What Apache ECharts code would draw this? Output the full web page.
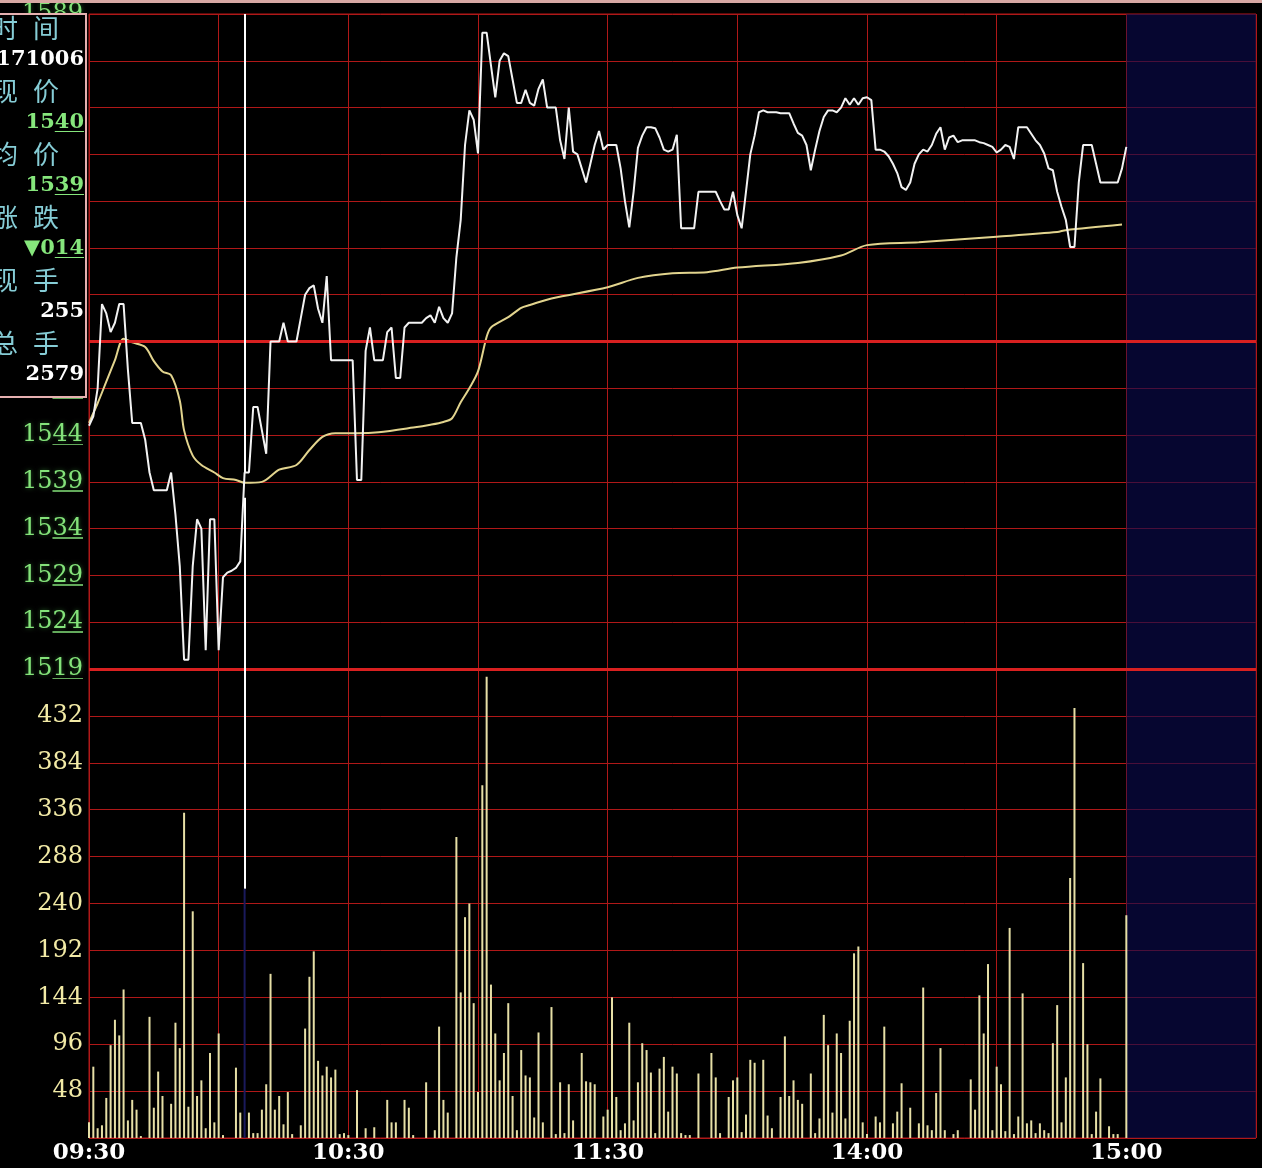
<!DOCTYPE html>
<html><head><meta charset="utf-8">
<script src="https://cdn.jsdelivr.net/npm/echarts@6.0.0/dist/echarts.min.js"></script>
<style>html,body{margin:0;padding:0;background:#000;}#c{width:1262px;height:1168px;}</style>
</head><body><div id="c"></div><script>
// ---- data ----
const timeLabels = ['09:30','','10:30','','11:30','','14:00','','15:00',''];
const priceTicks = {min:1519, max:1589, step:5, prevClose:1554};
const volumeTicks = {min:0, max:480, step:48};
const cursorMinute = 36;
const cursorPrice = 1540;
const cursorVolume = 255;
const infoLabels = [['时','间'],['现','价'],['均','价'],['涨','跌'],['现','手'],['总','手']];
const infoValues = ['171006','1540','1539','▼014','255','2579'];
const infoValueColors = ['#ffffff','#86e67c','#86e67c','#86e67c','#ffffff','#ffffff'];

const pricePoints = [[0,1545],[1,1546],[2,1549],[3,1558],[4,1557],[5,1555],[6,1556],[7,1558],[8,1558],[9,1551],[10,1545.3],[11,1545.3],[12,1545.3],[13,1543.5],[14,1540],[15,1538.1],[16,1538.1],[17,1538.1],[18,1538.1],[19,1540],[20,1535.5],[21,1530],[22,1520],[23,1520],[24,1530],[25,1535],[26,1534],[27,1521],[28,1535],[29,1535],[30,1521],[31,1528.8],[32,1529.3],[33,1529.5],[34,1529.8],[35,1530.5],[36,1540],[37,1540],[38,1547],[39,1547],[40,1544.5],[41,1542],[42,1554],[43,1554],[44,1554],[45,1556],[46,1554],[47,1554],[48,1554],[49,1556.5],[50,1559],[51,1559.7],[52,1560],[53,1557.5],[54,1556],[55,1561],[56,1552],[57,1552],[58,1552],[59,1552],[60,1552],[61,1552],[62,1539.2],[63,1539.2],[64,1553],[65,1555.5],[66,1552],[67,1552],[68,1552],[69,1555],[70,1555.5],[71,1550.1],[72,1550.1],[73,1555.5],[74,1556],[75,1556],[76,1556],[77,1556],[78,1556.5],[79,1556.8],[80,1556],[81,1557.7],[82,1556.5],[83,1556],[84,1557],[85,1563],[86,1567],[87,1575],[88,1578.7],[89,1577.7],[90,1574.1],[91,1587],[92,1587],[93,1583.5],[94,1580.1],[95,1584],[96,1584.8],[97,1584.5],[98,1582],[99,1579.5],[100,1579.5],[101,1580.9],[102,1579.5],[103,1579.2],[104,1581],[105,1582],[106,1579],[107,1579],[108,1579],[109,1575.5],[110,1573.5],[111,1579],[112,1574.3],[113,1574],[114,1572.5],[115,1571],[116,1573],[117,1575],[118,1576.5],[119,1574.5],[120,1575],[121,1575],[122,1575],[123,1572.5],[124,1569],[125,1566.2],[126,1570],[127,1574.7],[128,1576],[129,1576.9],[130,1576.9],[131,1576.8],[132,1575.8],[133,1574.5],[134,1574.3],[135,1574.5],[136,1576.1],[137,1566.1],[138,1566.1],[139,1566.1],[140,1566.1],[141,1570],[142,1570],[143,1570],[144,1570],[145,1570],[146,1569],[147,1568.1],[148,1568.1],[149,1570],[150,1567.5],[151,1566.1],[152,1570],[153,1574],[154,1576],[155,1578.5],[156,1578.7],[157,1578.5],[158,1578.5],[159,1578.5],[160,1578.4],[161,1578.4],[162,1578.4],[163,1577.3],[164,1576.3],[165,1576],[166,1575],[167,1572.3],[168,1574.5],[169,1576.5],[170,1578],[171,1578.7],[172,1578.7],[173,1578.5],[174,1579],[175,1580],[176,1579.3],[177,1580],[178,1579.3],[179,1580],[180,1580.1],[181,1579.8],[182,1574.5],[183,1574.5],[184,1574.3],[185,1573.8],[186,1573],[187,1572],[188,1570.5],[189,1570.2],[190,1571],[191,1573],[192,1574],[193,1574.5],[194,1574.3],[195,1575],[196,1576.2],[197,1576.9],[198,1574.5],[199,1575.8],[200,1576],[201,1575.3],[202,1575.5],[203,1575.5],[204,1575.5],[205,1575.5],[206,1575.3],[207,1575.2],[208,1575],[209,1574.8],[210,1574.2],[211,1574.5],[212,1575],[213,1574.8],[214,1573.5],[215,1576.9],[216,1576.9],[217,1576.9],[218,1576.2],[219,1575.5],[220,1575],[221,1574.1],[222,1572.5],[223,1572.3],[224,1570],[225,1568.4],[226,1567],[227,1564.1],[228,1564.1],[229,1571],[230,1575],[231,1575],[232,1575],[233,1573],[234,1571],[235,1571],[236,1571],[237,1571],[238,1571],[239,1572.5],[240,1574.8]];

const avgPoints = [[0,1545.3],[2,1547.4],[4,1549.7],[6,1552],[8,1554.3],[10,1553.9],[13,1553.4],[15,1551.9],[17,1550.8],[19,1550.4],[21,1547.7],[22,1544.5],[24,1541.8],[26,1540.8],[29,1540],[31,1539.4],[34,1539.2],[36,1538.9],[40,1539],[44,1540.3],[48,1540.8],[51,1542.4],[54,1543.8],[57,1544.2],[62,1544.2],[67,1544.3],[75,1544.8],[79,1545.1],[82,1545.4],[84,1545.8],[86,1547.5],[88,1549],[90,1550.8],[92,1554.5],[93,1555.5],[97,1556.6],[100,1557.6],[102,1557.9],[107,1558.6],[120,1559.8],[127,1560.8],[135,1561.3],[143,1561.4],[150,1561.9],[164,1562.4],[174,1563.2],[180,1564.3],[192,1564.6],[210,1565.2],[224,1565.7],[226,1565.9],[239,1566.5]];

const volumePoints = [[0,16],[1,73],[2,10],[3,13],[4,41],[5,95],[6,121],[7,105],[8,152],[9,18],[10,39],[11,29],[12,2],[14,124],[15,31],[16,68],[17,43],[19,35],[20,118],[21,92],[22,333],[23,32],[24,232],[25,43],[26,59],[27,10],[28,87],[29,16],[30,107],[31,3],[34,72],[35,26],[36,255],[37,26],[38,5],[39,5],[40,29],[41,55],[42,168],[43,29],[44,43],[45,14],[46,47],[47,4],[49,13],[50,112],[51,165],[52,191],[53,79],[54,64],[55,73],[56,62],[57,70],[58,4],[59,5],[60,3],[62,49],[64,10],[66,11],[69,39],[70,16],[71,16],[73,39],[74,31],[75,3],[78,57],[80,8],[81,114],[82,39],[83,26],[85,308],[86,149],[87,226],[88,240],[89,138],[90,47],[91,361],[92,472],[93,157],[94,107],[95,59],[96,87],[97,138],[98,43],[99,8],[100,90],[101,64],[102,62],[103,21],[104,108],[105,16],[107,134],[108,4],[109,57],[110,5],[111,55],[112,18],[114,87],[115,58],[116,57],[117,55],[119,22],[120,29],[121,144],[122,42],[123,8],[124,15],[125,118],[126,18],[127,57],[128,97],[129,90],[130,67],[131,5],[132,71],[133,83],[134,27],[135,73],[136,66],[137,5],[138,3],[139,3],[141,66],[144,87],[145,62],[146,5],[148,42],[149,59],[150,62],[151,6],[152,24],[153,80],[154,77],[156,80],[157,23],[158,10],[160,42],[161,104],[162,43],[163,59],[164,39],[165,35],[167,66],[168,5],[169,20],[170,126],[171,95],[172,26],[173,107],[174,87],[175,20],[176,120],[177,189],[178,196],[179,16],[180,4],[182,22],[183,16],[184,114],[186,15],[187,27],[188,56],[190,31],[192,15],[193,154],[194,13],[195,8],[196,46],[197,92],[198,8],[200,4],[201,8],[204,60],[205,29],[206,146],[207,107],[208,178],[209,8],[210,73],[211,55],[212,7],[213,215],[214,4],[215,22],[216,148],[217,15],[218,18],[219,5],[220,15],[221,8],[222,5],[223,97],[224,136],[225,16],[226,62],[227,266],[228,440],[230,179],[231,96],[232,4],[233,27],[234,61],[236,12],[237,4],[238,4],[240,228]];

// ---- styles ----
const GRID_RED = '#b01818';
const THICK_RED = '#d82020';
const GREEN = '#84e27a';
const SERIF = 'DejaVu Serif';
const CJK = 'Noto Sans CJK SC';

const chart = echarts.init(document.getElementById('c'));

// underline effect for the last two digits (green numbers)
function underlineBg(color) {
  return new echarts.graphic.LinearGradient(0, 0, 0, 1, [
    {offset: 0, color: 'rgba(0,0,0,0)'}, {offset: 0.86, color: 'rgba(0,0,0,0)'},
    {offset: 0.86, color: color}, {offset: 0.93, color: color},
    {offset: 0.93, color: 'rgba(0,0,0,0)'}, {offset: 1, color: 'rgba(0,0,0,0)'}
  ]);
}

function xAxisCfg(gi, showLabels) {
  return {
    type: 'value', gridIndex: gi, min: 0, max: 270, interval: 30,
    axisLine: {show: false}, axisTick: {show: false},
    axisLabel: {show: showLabels, color: '#ffffff', fontFamily: SERIF, fontSize: 23, fontWeight: 'bold', margin: 4,
      showMinLabel: true, showMaxLabel: true,
      formatter: v => timeLabels[Math.round(v / 30)] || ''},
    splitLine: {show: true, lineStyle: {color: GRID_RED, width: 1}}
  };
}

// info box graphics
const infoGraphics = [
  {type: 'rect', shape: {x: 0, y: 0, width: 1262, height: 3}, style: {fill: '#d8a8a4'}, z: 99, silent: true},
  {type: 'rect', shape: {x: -6, y: 14, width: 92, height: 383},
   style: {fill: '#000', stroke: '#e6b0b0', lineWidth: 2}, z: 100, silent: true}
];
const rowTop = 28, rowStep = 63;
infoLabels.forEach((pair, i) => {
  const y = rowTop + i * rowStep;
  infoGraphics.push({type: 'text', x: -8, y: y, z: 101,
    style: {text: pair[0], fill: '#86cdd6', font: '26px "' + CJK + '"', textAlign: 'left', textVerticalAlign: 'middle'}});
  infoGraphics.push({type: 'text', x: 33, y: y, z: 101,
    style: {text: pair[1], fill: '#86cdd6', font: '26px "' + CJK + '"', textAlign: 'left', textVerticalAlign: 'middle'}});
  const val = infoValues[i];
  const col = infoValueColors[i];
  const underlined = col !== '#ffffff';
  const txt = underlined ? '{a|' + val.slice(0, val.length - 2) + '}{b|' + val.slice(-2) + '}' : '{a|' + val + '}';
  infoGraphics.push({type: 'text', x: 84, y: y + 32, z: 101,
    style: {text: txt, textAlign: 'right', textVerticalAlign: 'middle',
      rich: {
        a: {fill: col, font: 'bold 21px "' + SERIF + '"'},
        b: {fill: col, font: 'bold 21px "' + SERIF + '"', backgroundColor: underlineBg(col)}
      }}});
});

const option = {
  backgroundColor: '#000',
  animation: false,
  grid: [
    {left: 89, right: 6, top: 14, height: 655, show: true, borderColor: '#b01818', borderWidth: 1, backgroundColor: 'transparent'},
    {left: 89, right: 6, top: 669, height: 469, show: true, borderColor: '#b01818', borderWidth: 1, backgroundColor: 'transparent'}
  ],
  xAxis: [xAxisCfg(0, false), xAxisCfg(1, true)],
  yAxis: [
    {type: 'value', gridIndex: 0, min: priceTicks.min, max: priceTicks.max, interval: priceTicks.step,
      axisLine: {show: false}, axisTick: {show: false},
      axisLabel: {fontFamily: SERIF, fontSize: 24, margin: 6, showMaxLabel: true, showMinLabel: true,
        formatter: v => { const s = String(v); return '{a|' + s.slice(0, 2) + '}{b|' + s.slice(2) + '}'; },
        rich: {
          a: {color: GREEN, fontFamily: SERIF, fontSize: 24, textShadowColor: 'rgba(60,160,60,0.6)', textShadowBlur: 4},
          b: {color: GREEN, fontFamily: SERIF, fontSize: 24, textShadowColor: 'rgba(60,160,60,0.6)', textShadowBlur: 4,
            backgroundColor: underlineBg('rgba(132,226,122,0.75)')}
        }},
      splitLine: {show: true, lineStyle: {color: GRID_RED, width: 1}}},
    {type: 'value', gridIndex: 1, min: volumeTicks.min, max: volumeTicks.max, interval: volumeTicks.step,
      axisLine: {show: false}, axisTick: {show: false},
      axisLabel: {color: '#f2eaa6', fontFamily: SERIF, fontSize: 24, margin: 6,
        formatter: v => (v === volumeTicks.min || v === volumeTicks.max) ? '' : String(v)},
      splitLine: {show: true, lineStyle: {color: GRID_RED, width: 1}}}
  ],
  graphic: infoGraphics,
  series: [
    {type: 'line', xAxisIndex: 0, yAxisIndex: 0, data: [], z: 1, silent: true,
      markArea: {silent: true, itemStyle: {color: 'rgba(10,10,78,0.62)'}, data: [[{xAxis: 240}, {xAxis: 270}]]}},
    {type: 'line', xAxisIndex: 1, yAxisIndex: 1, data: [], z: 1, silent: true,
      markArea: {silent: true, itemStyle: {color: 'rgba(10,10,78,0.62)'}, data: [[{xAxis: 240}, {xAxis: 270}]]}},
    {type: 'line', xAxisIndex: 0, yAxisIndex: 0, data: [], z: 2, silent: true,
      markLine: {silent: true, symbol: 'none', label: {show: false},
        lineStyle: {color: THICK_RED, width: 3, type: 'solid'},
        data: [{yAxis: priceTicks.prevClose}, {yAxis: priceTicks.min}]}},
    {name: 'avg', type: 'line', xAxisIndex: 0, yAxisIndex: 0, data: avgPoints, z: 4,
      symbol: 'none', smooth: 0.3, lineStyle: {color: '#e2d48e', width: 2}},
    {name: 'price', type: 'line', xAxisIndex: 0, yAxisIndex: 0, data: pricePoints, z: 5,
      symbol: 'none', lineStyle: {color: '#f2f2f2', width: 2},
      markLine: {silent: true, symbol: 'none', label: {show: false},
        lineStyle: {color: '#ffffff', width: 2, type: 'solid'},
        data: [
          [{coord: [cursorMinute, priceTicks.max]}, {coord: [cursorMinute, cursorPrice]}],
          [{coord: [cursorMinute, cursorPrice - 2.7]}, {coord: [cursorMinute, priceTicks.min]}]
        ]}},
    {name: 'vol', type: 'bar', xAxisIndex: 1, yAxisIndex: 1, data: volumePoints, z: 5, barWidth: 2,
      itemStyle: {color: p => p.value[0] === cursorMinute ? '#1a1a5c' : '#e6dfa6'},
      markLine: {silent: true, symbol: 'none', label: {show: false},
        lineStyle: {color: '#ffffff', width: 2, type: 'solid'},
        data: [[{coord: [cursorMinute, volumeTicks.max]}, {coord: [cursorMinute, cursorVolume]}]]}}
  ]
};
chart.setOption(option);
</script></body></html>
